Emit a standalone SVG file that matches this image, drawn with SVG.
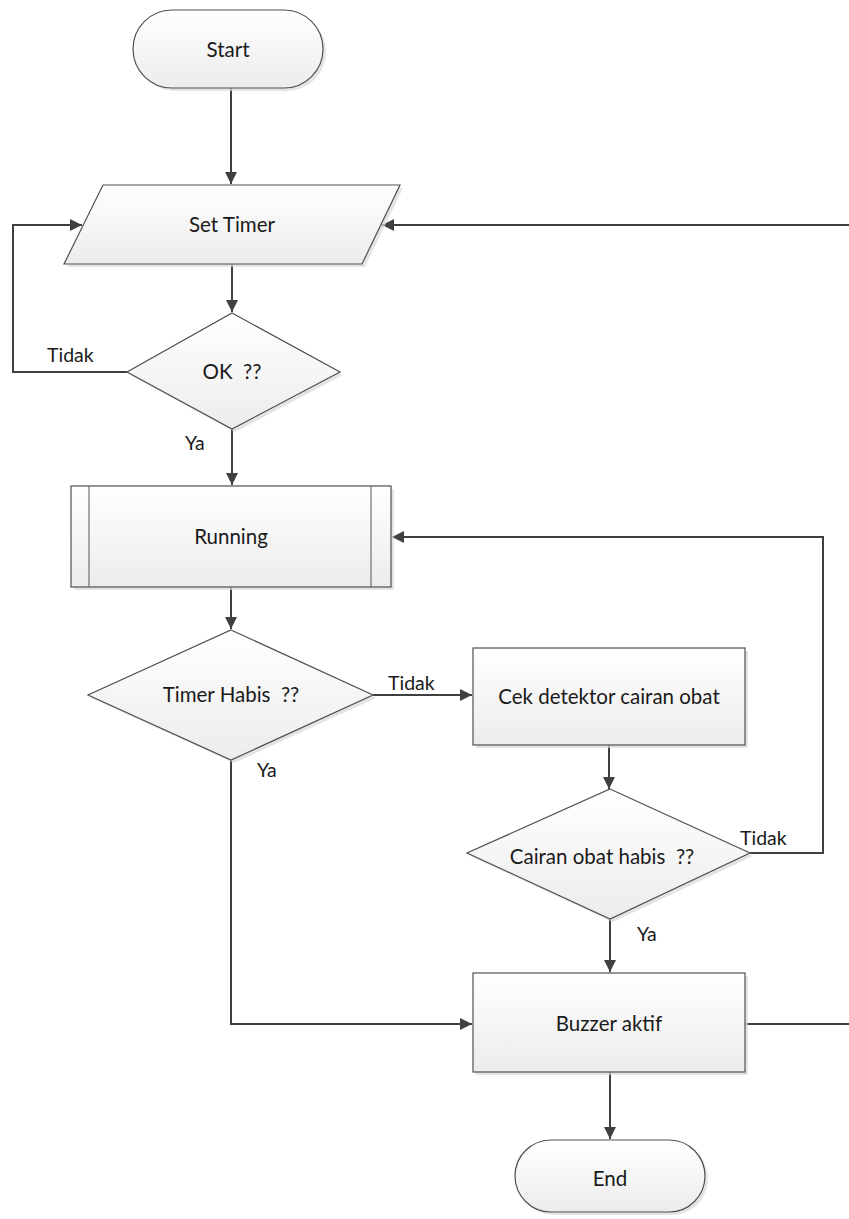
<svg xmlns="http://www.w3.org/2000/svg" width="849" height="1219" viewBox="0 0 849 1219">
<style>
.shape{fill:url(#g);stroke:#505050;stroke-width:1.2}
.sh{fill:#d8d8d8;stroke:none;opacity:0.7}
.inner{stroke:#707070;stroke-width:1.2;fill:none}
.lbl{font-family:Lato,"Open Sans",sans-serif;font-size:20.5px;fill:#1a1a1a;text-anchor:middle;dominant-baseline:central;white-space:pre}
.cl{font-family:Lato,"Open Sans",sans-serif;font-size:19.5px;fill:#1a1a1a}
.conn{fill:none;stroke:#404040;stroke-width:2}
</style>
<defs>
<linearGradient id="g" x1="0" y1="0" x2="0" y2="1">
<stop offset="0" stop-color="#ffffff"/>
<stop offset="1" stop-color="#ececec"/>
</linearGradient>
<marker id="a" viewBox="0 0 12 12" refX="12" refY="6" markerWidth="12" markerHeight="12" markerUnits="userSpaceOnUse" orient="auto">
<path d="M0,0 L12,6 L0,12 z" fill="#404040"/>
</marker>
</defs>
<g id="connectors">
<path class="conn" d="M231,88 V184" marker-end="url(#a)"/>
<path class="conn" d="M232,264 V312" marker-end="url(#a)"/>
<path class="conn" d="M127,372 H13 V225 H82" marker-end="url(#a)"/>
<path class="conn" d="M851,225 H382" marker-end="url(#a)"/>
<path class="conn" d="M232,429 V485" marker-end="url(#a)"/>
<path class="conn" d="M231,587 V629" marker-end="url(#a)"/>
<path class="conn" d="M373,695 H472" marker-end="url(#a)"/>
<path class="conn" d="M609,745 V789" marker-end="url(#a)"/>
<path class="conn" d="M750,853 H823 V537 H392" marker-end="url(#a)"/>
<path class="conn" d="M610,919 V972" marker-end="url(#a)"/>
<path class="conn" d="M231,760 V1024 H472" marker-end="url(#a)"/>
<path class="conn" d="M745,1024 H851"/>
<path class="conn" d="M610,1072 V1139" marker-end="url(#a)"/>
<text class="cl" x="47" y="362">Tidak</text>
<text class="cl" x="185" y="450">Ya</text>
<text class="cl" x="388" y="690">Tidak</text>
<text class="cl" x="257" y="777">Ya</text>
<text class="cl" x="740" y="845">Tidak</text>
<text class="cl" x="637" y="941">Ya</text>
</g>
<g id="start">
<rect class="sh" x="136" y="13" width="190" height="78" rx="39"/>
<rect class="shape" x="133" y="10" width="190" height="78" rx="39"/>
<text class="lbl" x="228" y="49">Start</text>
</g>
<g id="set-timer">
<polygon class="sh" points="106,188 403,188 365,267 67,267"/>
<polygon class="shape" points="103,185 400,185 362,264 64,264"/>
<text class="lbl" x="232" y="224">Set Timer</text>
</g>
<g id="ok">
<polygon class="sh" points="235,316 343,375 235,432 130,375"/>
<polygon class="shape" points="232,313 340,372 232,429 127,372"/>
<text class="lbl" x="232" y="371">OK  ??</text>
</g>
<g id="running">
<rect class="sh" x="74" y="489" width="320" height="101"/>
<rect class="shape" x="71" y="486" width="320" height="101"/>
<line class="inner" x1="89" y1="486" x2="89" y2="587"/>
<line class="inner" x1="371" y1="486" x2="371" y2="587"/>
<text class="lbl" x="231" y="536">Running</text>
</g>
<g id="timer-habis">
<polygon class="sh" points="234,633 376,698 234,763 91,698"/>
<polygon class="shape" points="231,630 373,695 231,760 88,695"/>
<text class="lbl" x="231" y="694">Timer Habis  ??</text>
</g>
<g id="cek">
<rect class="sh" x="476" y="651" width="272" height="97"/>
<rect class="shape" x="473" y="648" width="272" height="97"/>
<text class="lbl" x="609" y="696">Cek detektor cairan obat</text>
</g>
<g id="cairan">
<polygon class="sh" points="613,792 753,856 613,922 470,856"/>
<polygon class="shape" points="610,789 750,853 610,919 467,853"/>
<text class="lbl" x="602" y="856">Cairan obat habis  ??</text>
</g>
<g id="buzzer">
<rect class="sh" x="476" y="976" width="272" height="99"/>
<rect class="shape" x="473" y="973" width="272" height="99"/>
<text class="lbl" x="609" y="1023">Buzzer aktif</text>
</g>
<g id="end">
<rect class="sh" x="518" y="1143" width="190" height="72" rx="36"/>
<rect class="shape" x="515" y="1140" width="190" height="72" rx="36"/>
<text class="lbl" x="610" y="1178">End</text>
</g>
</svg>
